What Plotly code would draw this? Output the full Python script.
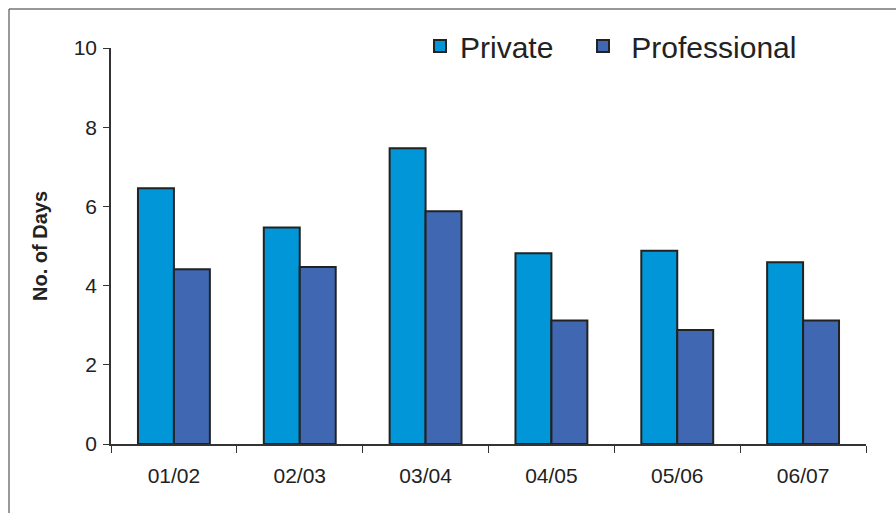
import plotly.graph_objects as go

# Average number of days per period
periods = ["01/02", "02/03", "03/04", "04/05", "05/06", "06/07"]
private_days = [6.46, 5.47, 7.47, 4.82, 4.88, 4.59]
professional_days = [4.41, 4.47, 5.88, 3.12, 2.88, 3.12]
y_ticks = [0, 2, 4, 6, 8, 10]

FONT = "Liberation Sans, Arial, sans-serif"
OUTLINE = dict(color="#222222", width=2)

W, H = 896, 513
L, R, T, B = 111, 30, 48, 69
PW, PH = W - L - R, H - T - B

fig = go.Figure()
fig.add_trace(go.Bar(
    name="Private", x=periods, y=private_days,
    marker=dict(color="#0096D8", line=OUTLINE),
    legendwidth=118,
))
fig.add_trace(go.Bar(
    name="\u00a0Professional", x=periods, y=professional_days,
    marker=dict(color="#3F67B2", line=OUTLINE),
    legendwidth=190,
))

frame_x = (9 - L) / PW
frame_y = 1 + (T - 9) / PH

fig.update_layout(
    width=W, height=H,
    margin=dict(l=L, r=R, t=T, b=B, autoexpand=False),
    paper_bgcolor="white", plot_bgcolor="white",
    barmode="group", bargap=0.4286, bargroupgap=0,
    font=dict(family=FONT, color="#222222"),
    showlegend=True,
    legend=dict(
        orientation="h", xref="container", yref="container",
        x=420 / W, y=1 - 20 / H, xanchor="left", yanchor="top",
        font=dict(size=30, color="#222222"),
        bgcolor="rgba(0,0,0,0)",
        traceorder="normal",
    ),
    xaxis=dict(
        showline=True, linecolor="#333333", linewidth=1.5,
        ticks="outside", ticklen=7, tickcolor="#333333", tickwidth=1.2,
        tickson="boundaries", showgrid=False,
        tickfont=dict(size=21, color="#222222"),
        ticklabelstandoff=12,
    ),
    yaxis=dict(
        range=[0, 10], tickvals=y_ticks,
        showline=True, linecolor="#333333", linewidth=1.5,
        ticks="outside", ticklen=6, tickcolor="#333333", tickwidth=1.2,
        showgrid=False, zeroline=False,
        tickfont=dict(size=21, color="#222222"),
        ticklabelstandoff=2,
        title=dict(text="<b>No. of Days</b>", font=dict(size=20, color="#222222"), standoff=21),
    ),
    shapes=[
        # outer frame (top and left edges)
        dict(type="line", xref="paper", yref="paper",
             x0=frame_x, x1=1.2, y0=frame_y, y1=frame_y,
             line=dict(color="#333333", width=1.2)),
        dict(type="line", xref="paper", yref="paper",
             x0=frame_x, x1=frame_x, y0=frame_y, y1=-0.3,
             line=dict(color="#555555", width=1.2)),
    ],
)

fig.write_html("out.html")
